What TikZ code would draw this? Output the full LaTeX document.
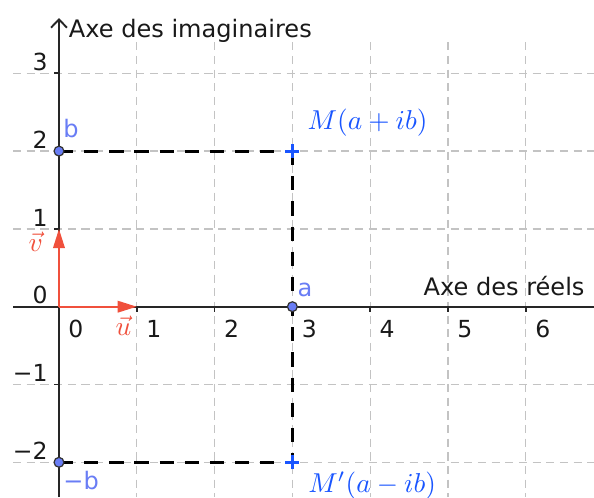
\documentclass[tikz,border=0pt]{standalone}
\usepackage{fontspec}
\setmainfont{DejaVu Sans}
\usetikzlibrary{arrows.meta}
\definecolor{ptblue}{RGB}{105,125,245}
\definecolor{mblue}{RGB}{25,85,255}
\definecolor{vred}{RGB}{240,80,60}
\definecolor{gridgray}{RGB}{195,195,195}
\begin{document}
\begin{tikzpicture}[
  gridline/.style={gridgray, line width=0.45pt, dash pattern=on 3pt off 2pt},
  axisline/.style={black!85, line width=0.7pt},
  axtick/.style={black!85, line width=0.6pt},
  txt/.style={font=\fontsize{8.8}{10}\selectfont, inner sep=0pt, text=black!90},
  numlbl/.style={font=\fontsize{8.6}{10}\selectfont, inner sep=0pt, text=black!90},
  ptlbl/.style={font=\fontsize{8.8}{10}\selectfont, inner sep=0pt, text=ptblue},
  mlbl/.style={font=\fontsize{10}{12}\selectfont, inner sep=0pt, text=mblue},
  vlbl/.style={font=\fontsize{10}{12}\selectfont, inner sep=0pt, text=vred},
  dashseg/.style={black, line width=1.15pt, dash pattern=on 5.2pt off 4pt},
  vec/.style={vred, line width=0.75pt, -{Triangle[length=7pt,width=4.2pt]}},
  pt/.style={circle, draw=black!80, fill=ptblue, line width=0.45pt, minimum size=3.6pt, inner sep=0pt},
  cross/.style={mblue, line width=1.1pt}
]
\useasboundingbox (-0.758,-2.446) rectangle (6.877,3.942);
% grid
\foreach \x in {1,...,6} \draw[gridline] (\x,3.40) -- (\x,-2.446);
\foreach \y in {-2,-1,1,2,3} \draw[gridline] (-0.59,\y) -- (6.877,\y);
% axes
\coordinate (xs) at (-0.59,0);
\coordinate (xe) at (6.877,0);
\coordinate (ys) at (0,-2.446);
\coordinate (ye) at (0,3.71);
\draw[axisline] (xs) -- (xe);
\draw[axisline, -{Straight Barb[length=3pt,width=5.8pt]}] (ys) -- (ye);
\foreach \x in {1,...,6} \draw[axtick] (\x,0) -- (\x,-0.07);
\foreach \y in {-2,-1,1,2,3} \draw[axtick] (0,\y) -- (-0.07,\y);
% axis numbers
\foreach \x in {0,...,6} \node[numlbl, anchor=north west] (nx\x) at (\x+0.115,-0.17) {\x};
\foreach \y in {0,1,2,3} \node[numlbl, anchor=south east] (ny\y) at (-0.14,\y+0.03) {\y};
\node[numlbl, anchor=south east] (nym1) at (-0.14,-0.97) {−1};
\node[numlbl, anchor=south east] (nym2) at (-0.14,-1.97) {−2};
% axis titles
\node[txt, anchor=base west] (ti) at (0.12,3.454) {Axe des imaginaires};
\node[txt, anchor=base west] (tr) at (4.68,0.15) {Axe des réels};
% points
\coordinate (O) at (0,0);
\coordinate (I) at (1,0);
\coordinate (J) at (0,1);
\coordinate (B) at (0,2);
\coordinate (Bm) at (0,-2);
\coordinate (A) at (3,0);
\coordinate (M) at (3,2);
\coordinate (Mp) at (3,-2);
% dashed segments
\draw[dashseg] (B) -- (M);
\draw[dashseg] (M) -- (Mp);
\draw[dashseg] (Bm) -- (Mp);
% vectors
\draw[vec] (O) -- (I);
\draw[vec] (O) -- (J);
\node[vlbl] (lu) at (0.83,-0.25) {$\vec{u}$};
\node[vlbl] (lv) at (-0.30,0.83) {$\vec{v}$};
% crosses
\draw[cross] ([xshift=-0.09cm]M) -- ([xshift=0.09cm]M) ([yshift=-0.09cm]M) -- ([yshift=0.09cm]M);
\draw[cross] ([xshift=-0.09cm]Mp) -- ([xshift=0.09cm]Mp) ([yshift=-0.09cm]Mp) -- ([yshift=0.09cm]Mp);
% points
\node[pt] (pB) at (B) {};
\node[pt] (pBm) at (Bm) {};
\node[pt] (pA) at (A) {};
% point labels
\node[ptlbl, anchor=base west] (lb) at (0.05,2.17) {b};
\node[ptlbl, anchor=base west] (la) at (3.06,0.13) {a};
\node[ptlbl, anchor=base west] (lbm) at (0.05,-2.35) {−b};
\node[mlbl, anchor=base west] (lM) at (3.19,2.28) {$M(a+ib)$};
\node[mlbl, anchor=base west] (lMp) at (3.20,-2.39) {$M'(a-ib)$};
\end{tikzpicture}
\end{document}
